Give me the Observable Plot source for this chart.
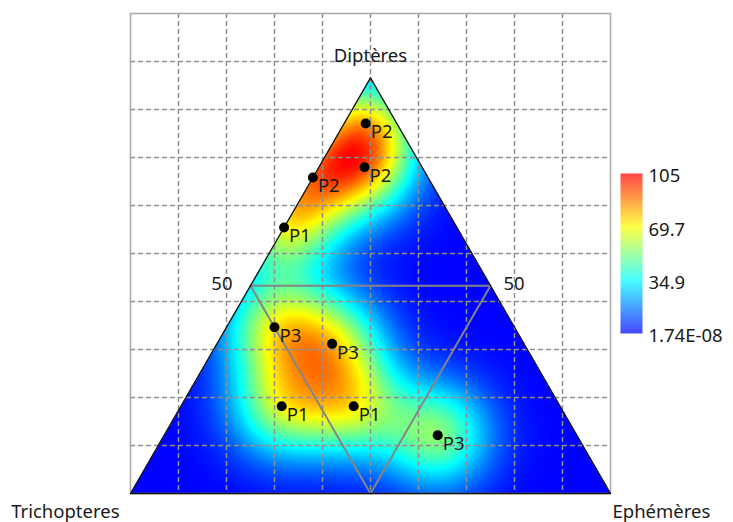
<!DOCTYPE html>
<html><head><meta charset="utf-8">
<script src="https://cdn.jsdelivr.net/npm/d3@7"></script>
<script src="https://cdn.jsdelivr.net/npm/@observablehq/plot@0.6"></script>
<style>
body{margin:0;background:#fff;}
#wrap{position:relative;width:733px;height:522px;font-family:"Noto Sans",sans-serif;}
#main{position:absolute;left:0;top:0;}
#bar{position:absolute;left:620px;top:0;}
</style></head><body><div id="wrap"><div id="main"></div><div id="bar"></div></div>
<script>
// ---- data (percent compositions) ----
const labels       = ["P2","P2","P2","P1","P3","P3","P1","P1","P3"];
const trichopteres = [6.5, 12,   24,  36,  50,  40,  58,  43,  29];
const dipteres     = [89,  78.5, 76,  64,  40,  36,  21,  21,  14];
const ephemeres    = [4.5, 9.5,  0,   0,   10,  24,  21,  36,  57];
const cornerNames  = ["Trichopteres","Diptères","Ephémères"];
const midValue     = 50;
const colorTicks      = [1.74e-8, 34.9, 69.7, 105];
const colorTickLabels = ["1.74E-08","34.9","69.7","105"];
const colorStops   = ["#0000ff","#0080ff","#00ffff","#7fff7f","#ffff00","#ff8000","#ff0000"];
const bandwidth    = 7.8; // kernel width, percent units

// ---- ternary projection ----
const S3 = Math.sqrt(3)/2;
const proj = (t,d,e) => { const s = t+d+e; return {x: 100*(e + d/2)/s, y: 100*d*S3/s}; };
const pts = labels.map((l,i) => ({label:l, ...proj(trichopteres[i], dipteres[i], ephemeres[i])}));
const corners = [proj(100,0,0), proj(0,0,100), proj(0,100,0)];
const tri = [...corners, corners[0]];
const m = 100 - midValue;
const inner = [proj(midValue,m,0), proj(0,m,midValue), proj(midValue,0,m), proj(midValue,m,0)];

const inside = (x,y) => y >= 0 && y <= 2*S3*x && y <= 2*S3*(100-x);
const raw = (x,y) => {
  let s = 0;
  for (const p of pts) { const dx = x-p.x, dy = y-p.y; s += Math.exp(-(dx*dx+dy*dy)/(2*bandwidth*bandwidth)); }
  return s;
};
let mx = 0;
for (let x = 0; x <= 100; x += 0.5) for (let y = 0; y <= 87; y += 0.5) if (inside(x,y)) mx = Math.max(mx, raw(x,y));
const vmax = colorTicks[colorTicks.length-1];
const density = (x,y) => inside(x,y) ? raw(x,y)*vmax/mx : NaN;
const colorDomain = colorStops.map((_,i) => i*vmax/(colorStops.length-1));

const font = '"Noto Sans", sans-serif';
const fs = 18.5;
const ink = "#1a1a1a";
const main = Plot.plot({
  width: 733, height: 522,
  marginLeft: 130, marginRight: 123, marginTop: 13, marginBottom: 29,
  x: {domain: [0,100], axis: null},
  y: {domain: [0,100], axis: null},
  color: {type: "linear", domain: colorDomain, range: colorStops},
  style: {fontFamily: font, fontSize: fs+"px", color: ink, background: "transparent"},
  marks: [
    Plot.raster({x1:0, y1:0, x2:100, y2:100, fill: density, pixelSize: 1}),
    Plot.gridX(d3.range(10,100,10), {stroke:"#8f8f8f", strokeOpacity:1, strokeWidth:1.5, strokeDasharray:"5,3"}),
    Plot.gridY(d3.range(10,100,10), {stroke:"#8f8f8f", strokeOpacity:1, strokeWidth:1.5, strokeDasharray:"5,3"}),
    Plot.frame({stroke:"#a8a8a8", strokeWidth:1.5}),
    Plot.line(inner, {x:"x", y:"y", stroke:"#858585", strokeWidth:2}),
    Plot.line(tri, {x:"x", y:"y", stroke:"#111", strokeWidth:1.3}),
    Plot.dot(pts, {x:"x", y:"y", r:5, fill:"#000"}),
    Plot.text(pts, {x:"x", y:"y", text:"label", dx:5, dy:9, textAnchor:"start", fontSize:fs, fill:ink}),
    Plot.text([corners[2]], {x:"x", y:"y", text:[cornerNames[1]], dy:-22, fontSize:fs, fill:ink}),
    Plot.text([corners[0]], {x:"x", y:"y", text:[cornerNames[0]], dx:-11, dy:19, textAnchor:"end", fontSize:fs, fill:ink}),
    Plot.text([corners[1]], {x:"x", y:"y", text:[cornerNames[2]], dx:2, dy:19, textAnchor:"start", fontSize:fs, fill:ink}),
    Plot.text([inner[0]], {x:"x", y:"y", text:[String(midValue)], dx:-18, dy:-2, textAnchor:"end", fontSize:fs, fill:ink}),
    Plot.text([inner[1]], {x:"x", y:"y", text:[String(midValue)], dx:13, dy:-2, textAnchor:"start", fontSize:fs, fill:ink})
  ]
});
document.getElementById("main").appendChild(main);

const bar = Plot.plot({
  width: 113, height: 522,
  marginLeft: 0, marginRight: 91, marginTop: 173, marginBottom: 189,
  x: {domain: [0,1], axis: null},
  y: {domain: [0,vmax], axis: null},
  color: {type: "linear", domain: colorDomain, range: colorStops},
  style: {fontFamily: font, fontSize: fs+"px", color: ink, background: "transparent"},
  marks: [
    Plot.raster({x1:0, y1:0, x2:1, y2:vmax, fill: (x,y) => y, opacity: 0.72}),
    Plot.axisY(colorTicks, {anchor:"right", tickSize:0, tickPadding:6, dy:3, fontSize:fs, label:null,
      tickFormat: d => colorTickLabels[colorTicks.indexOf(d)]})
  ]
});
document.getElementById("bar").appendChild(bar);
</script></body></html>
